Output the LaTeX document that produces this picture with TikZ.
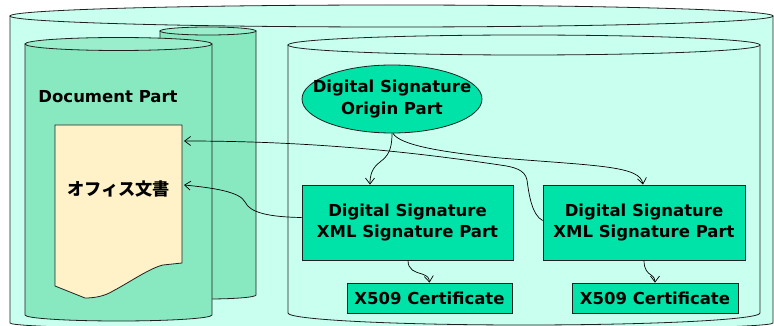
\documentclass[tikz,border=0pt]{standalone}
\usepackage{fontspec}
\setmainfont{DejaVu Sans}
\newfontfamily\jpfont{Noto Sans CJK JP}
\usetikzlibrary{shapes.geometric,arrows.meta}

\definecolor{outerfill}{HTML}{C8FFEE}
\definecolor{cylfill}{HTML}{88E8C0}
\definecolor{cyltop}{HTML}{9AEECC}
\definecolor{paperfill}{HTML}{FFF2C8}
\definecolor{partfill}{HTML}{00E3A8}
\definecolor{edge}{HTML}{202020}

\tikzset{
  outline/.style={draw=edge, line width=0.8pt},
  labeltext/.style={font=\bfseries\fontsize{16.5}{21.5}\selectfont, align=center, text=black},
  partbox/.style={outline, fill=partfill, rectangle, inner sep=0pt, labeltext},
  partoval/.style={outline, fill=partfill, ellipse, inner xsep=-25pt, inner ysep=0pt, labeltext},
  link/.style={draw=black, line width=0.7pt, -{Straight Barb[length=6pt,width=9pt,line width=0.7pt]}},
}

\begin{document}
\begin{tikzpicture}[x=1pt,y=-1pt]
\useasboundingbox (0,0) rectangle (774,326);
\clip (0,0) rectangle (774,326);

% outer package cylinder
\path[outline, fill=outerfill] (10,16) -- (10,323)
  arc[start angle=180, end angle=360, x radius=381.5pt, y radius=8pt]
  -- (773,16) -- cycle;
\draw[outline, fill=outerfill] (391.5,16) ellipse [x radius=381.5pt, y radius=11pt];

% second part cylinder behind the document part
\path[outline, fill=cylfill] (160,31) -- (160,295)
  arc[start angle=180, end angle=360, x radius=48pt, y radius=4pt]
  -- (256,31) -- cycle;
\draw[outline, fill=cyltop] (208,31) ellipse [x radius=48pt, y radius=4pt];

% document part cylinder
\path[outline, fill=cylfill] (25,44) -- (25,315)
  arc[start angle=180, end angle=360, x radius=93.5pt, y radius=6pt]
  -- (212,44) -- cycle;
\draw[outline, fill=cyltop] (118.5,44) ellipse [x radius=93.5pt, y radius=6.5pt];

% signature parts cylinder
\path[outline, fill=outerfill] (288,45) -- (288,313)
  arc[start angle=180, end angle=360, x radius=236pt, y radius=12pt]
  -- (760,45) -- cycle;
\draw[outline, fill=outerfill] (524,45) ellipse [x radius=236pt, y radius=10pt];

% the office document sheet
\path[outline, fill=paperfill] (55,125) -- (182,125) -- (182,263) -- (163,265)
  .. controls (150,268) and (130,282) .. (113,291)
  .. controls (105,296) and (95,298) .. (85,298)
  -- (55,286) -- cycle;
\coordinate (docA) at (184,141);
\coordinate (docB) at (184,185);

\node[labeltext, anchor=base] (docpart) at (108,103) {Document Part};
\node[font=\jpfont\bfseries\fontsize{17.2}{17.2}\selectfont, anchor=base, inner sep=0pt] (doctitle) at (118.5,195.5) {オフィス文書};

% signature parts
\node[partoval, minimum width=180pt, minimum height=68pt] (origin) at (392,99)
  {Digital Signature\\Origin Part};
\node[partbox, minimum width=211pt, minimum height=75pt] (xml1) at (407.5,222.5)
  {Digital Signature\\XML Signature Part};
\node[partbox, minimum width=202pt, minimum height=75pt] (xml2) at (644,222.5)
  {Digital Signature\\XML Signature Part};
\node[partbox, minimum width=165pt, minimum height=30pt] (cert1) at (429.5,298)
  {X509 Certificate};
\node[partbox, minimum width=166pt, minimum height=30pt] (cert2) at (655,298)
  {X509 Certificate};

% relationships
\draw[link] (origin.south) .. controls (392,150) and (388,156) .. (380,162)
  .. controls (372,168) and (370,175) .. ([xshift=-37.5pt]xml1.north);
\draw[link] ([xshift=1pt]origin.south) .. controls (400,145) and (440,152) .. (500,158)
  .. controls (600,166) and (640,166) .. ([xshift=-1pt]xml2.north);
\draw[link] ([yshift=2pt]xml2.west) .. controls (532,215) and (529,195) .. (527,180)
  .. controls (525,170) and (515,167) .. (500,165)
  .. controls (400,150) and (300,141) .. (docA);
\draw[link] ([yshift=5pt]xml1.west) .. controls (270,217) and (250,213) .. (245,202)
  .. controls (240,192) and (215,188) .. (docB);
\draw[link] ([xshift=0.5pt]xml1.south) .. controls (408,270) and (415,272) .. (422,274)
  .. controls (428,276) and (429,278) .. (cert1.north);
\draw[link] (xml2.south) .. controls (644,270) and (648,273) .. (651,275)
  .. controls (654,277) and (655,279) .. (cert2.north);
\end{tikzpicture}
\end{document}
